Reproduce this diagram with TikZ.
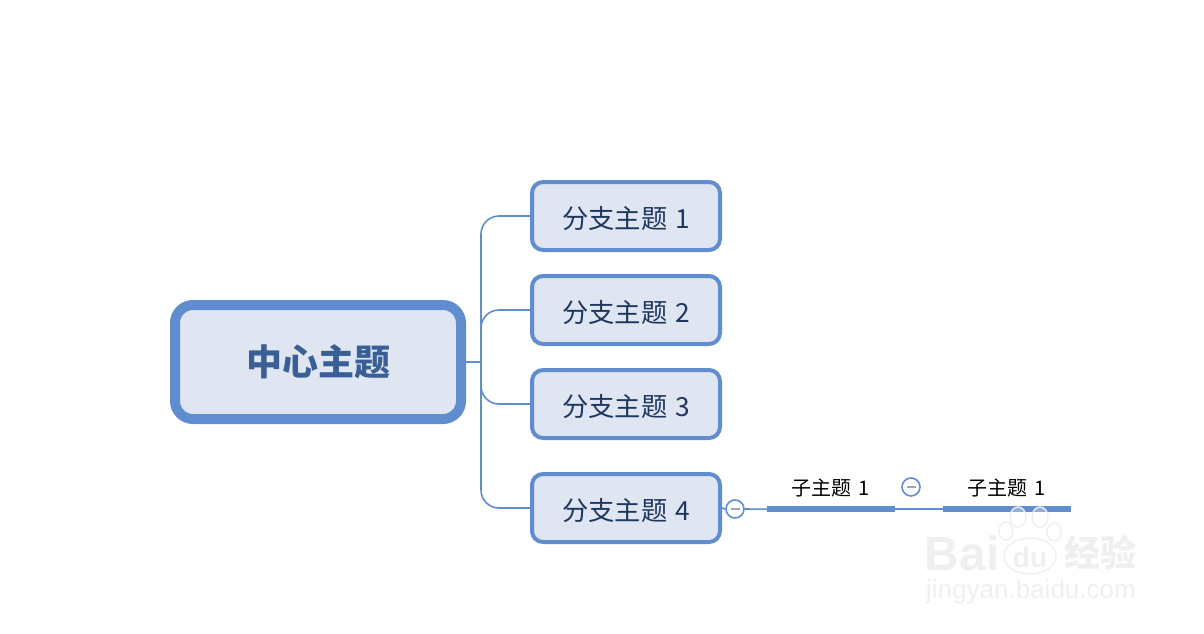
\documentclass[tikz,border=0pt]{standalone}
\usepackage{fontspec}
\setmainfont{Noto Sans CJK SC}
\newfontfamily\latinwm{Liberation Sans}
\definecolor{mapblue}{HTML}{5F8DD0}
\definecolor{mapfill}{HTML}{DFE6F1}
\definecolor{maintext}{HTML}{3A5F94}
\definecolor{branchtext}{HTML}{1F3760}
\definecolor{minuscol}{HTML}{9AA5CC}
\definecolor{wm}{HTML}{EFEFEF}
\newcommand{\gapB}{\hspace{8pt}}
\newcommand{\gapS}{\hspace{7pt}}
\newcommand{\lowerB}[1]{\raisebox{-2.5pt}[\height][\depth]{#1}}
\tikzset{
  x=1pt,y=-1pt,
  centraltopic/.style={draw=mapblue,fill=mapfill,line width=10pt,rounded corners=18pt,minimum width=286pt,minimum height=114pt,inner sep=0pt,text=maintext,font=\fontsize{36}{36}\selectfont\bfseries},
  branchtopic/.style={draw=mapblue,fill=mapfill,line width=4pt,rounded corners=11pt,minimum width=188pt,minimum height=68pt,inner sep=0pt,text=branchtext,font=\fontsize{26.3}{26}\selectfont},
  subtopic/.style={minimum width=128pt,minimum height=42pt,inner sep=0pt,text=black,font=\fontsize{20}{20}\selectfont},
  subline/.style={draw=mapblue,line width=6pt},
  link/.style={draw=mapblue,line width=1.6pt,rounded corners=18pt},
  collapse/.style={circle,draw=mapblue,fill=white,line width=1.6pt,minimum size=18pt,inner sep=0pt},
  minusbar/.style={draw=minuscol,line width=1.6pt},
  wmtext/.style={text=wm,inner sep=0pt},
  wmpaw/.style={draw=wm,line width=1.4pt,fill=white,fill opacity=.3}
}
\begin{document}
\begin{tikzpicture}
\useasboundingbox (0,0) rectangle (1204,634);
\node[centraltopic] (main) at (318,362) {中心主题};
\node[branchtopic] (b1) at (626,216) {\lowerB{分支主题\gapB 1}};
\node[branchtopic] (b2) at (626,310) {\lowerB{分支主题\gapB 2}};
\node[branchtopic] (b3) at (626,404) {\lowerB{分支主题\gapB 3}};
\node[branchtopic] (b4) at (626,508) {\lowerB{分支主题\gapB 4}};
\coordinate (trunk) at (481,362);
\draw[link] (main.east) -- (trunk);
\draw[link] (trunk) -- (trunk |- b1) -- (b1.west);
\draw[link] (trunk) -- (trunk |- b2) -- (b2.west);
\draw[link] (trunk) -- (trunk |- b3) -- (b3.west);
\draw[link] (trunk) -- (trunk |- b4) -- (b4.west);
% watermark
\node[wmtext,font=\latinwm\bfseries\fontsize{48}{48}\selectfont] (wm1) at (962,553) {Bai};
\node[wmtext,font=\latinwm\bfseries\fontsize{28}{28}\selectfont] (wm2) at (1030,557) {du};
\node[wmtext,font=\bfseries\fontsize{36}{36}\selectfont] (wm3) at (1100,552) {经验};
\node[wmtext,font=\latinwm\fontsize{26}{26}\selectfont] (wm4) at (1031,592) {jingyan.baidu.com};
% sub topics
\node[subtopic] (s1) at (831,488) {子主题\gapS 1\hspace{3.5pt}};
\node[subtopic] (s2) at (1007,488) {子主题\gapS 1\hspace{3.5pt}};
\node[collapse] (c1) at (735,509) {};
\node[collapse] (c2) at (911,487) {};
\draw[minusbar] ([xshift=-4.5pt]c1.center) -- ([xshift=4.5pt]c1.center);
\draw[minusbar] ([xshift=-4.5pt]c2.center) -- ([xshift=4.5pt]c2.center);
\draw[link] (b4.east) -- (c1.west);
\draw[link] (c1.east) -- (s1.south west);
\draw[link] (s1.south east) -- (s2.south west);
\draw[subline] (s1.south west) -- (s1.south east);
\draw[subline] (s2.south west) -- (s2.south east);
% watermark paw
\draw[wmpaw] (1018,517) ellipse (8 and 10);
\draw[wmpaw] (1040,517) ellipse (8 and 10);
\draw[wmpaw] (1006,531) ellipse (7 and 9);
\draw[wmpaw] (1054,532) ellipse (7 and 9);
\draw[draw=wm,line width=1.4pt] (1030,556) ellipse (26 and 18);
\end{tikzpicture}
\end{document}
